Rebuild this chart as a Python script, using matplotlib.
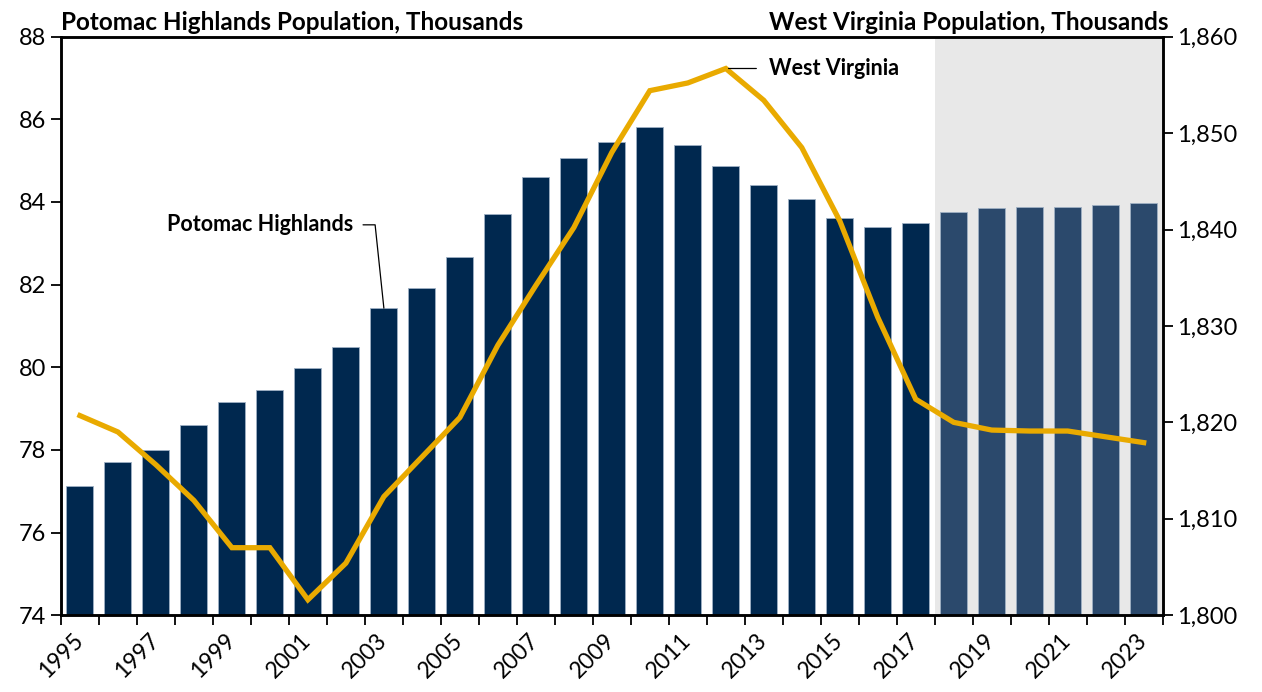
import numpy as np
import matplotlib
matplotlib.use("Agg")
import matplotlib.pyplot as plt
from matplotlib.ticker import FuncFormatter

plt.rcParams['font.family'] = ['Lato', 'DejaVu Sans']

# data
years = list(range(1995, 2024))
potomac = [77.13, 77.71, 78.00, 78.60, 79.17, 79.46, 79.98, 80.50, 81.43, 81.93,
           82.67, 83.70, 84.60, 85.07, 85.46, 85.82, 85.38, 84.86, 84.41, 84.08,
           83.61, 83.39, 83.49, 83.76, 83.85, 83.87, 83.89, 83.93, 83.97]
west_virginia = [1820.7, 1819.0, 1815.6, 1811.9, 1807.0, 1807.0, 1801.6, 1805.4, 1812.3, 1816.4,
                 1820.5, 1828.0, 1834.2, 1840.2, 1848.0, 1854.4, 1855.2, 1856.7, 1853.4, 1848.5,
                 1840.9, 1830.9, 1822.4, 1820.0, 1819.2, 1819.1, 1819.1, 1818.5, 1817.9]
forecast_start = 2018
xtick_years = [y for y in years if y % 2 == 1]

navy = '#00284f'
navy_fc = '#2b496c'
gold = '#e9aa00'

x = np.arange(len(years))
is_fc = np.array(years) >= forecast_start
n_hist = int((~is_fc).sum())

fig = plt.figure(figsize=(12.62, 6.92), dpi=100)
ax = fig.add_axes([0.0483, 0.111, 0.873, 0.836])

ax.axvspan(n_hist - 0.5, len(years) - 0.5, color='#e8e8e8', zorder=0, lw=0)
ax.bar(x, potomac, width=0.71, color=np.where(is_fc, navy_fc, navy),
       edgecolor='#9fb0c4', linewidth=0.6, zorder=2)
ax.set_xlim(-0.5, len(years) - 0.5)
ax.set_ylim(74, 88)
ax.set_yticks(np.arange(74, 89, 2))

# ticks between bars, labels on odd years
ax.set_xticks(np.arange(len(years) + 1) - 0.5)
ax.set_xticklabels([])
ax.set_xticks([years.index(y) for y in xtick_years], minor=True)
ax.set_xticklabels([str(y) for y in xtick_years], minor=True, rotation=45,
                   ha='right', va='center', rotation_mode='anchor', fontsize=16.5)
ax.tick_params(axis='x', which='major', direction='out', length=7, width=1.3)
ax.tick_params(axis='x', which='minor', length=0, pad=16)
ax.tick_params(axis='y', direction='out', length=7, width=1.3, labelsize=17)
for s in ax.spines.values():
    s.set_linewidth(1.8)

ax2 = ax.twinx()
ax2.plot(x, west_virginia, color=gold, lw=3.8, solid_joinstyle='miter', zorder=3)
ax2.set_ylim(1800, 1860)
ax2.set_yticks(np.arange(1800, 1861, 10))
ax2.yaxis.set_major_formatter(FuncFormatter(lambda v, p: f'{v:,.0f}'))
ax2.tick_params(axis='y', direction='out', length=7, width=1.3, labelsize=17)
for s in ax2.spines.values():
    s.set_linewidth(1.8)

ax.text(0.0, 1.005, 'Potomac Highlands Population, Thousands', transform=ax.transAxes,
        ha='left', va='bottom', fontsize=17.5, fontweight='bold')
ax.text(1.005, 1.005, 'West Virginia Population, Thousands', transform=ax.transAxes,
        ha='right', va='bottom', fontsize=17.5, fontweight='bold')

i_ph = years.index(2003)
ax.annotate('Potomac Highlands', xy=(i_ph, potomac[i_ph]), xytext=(-22, 60),
            textcoords='offset points', ha='right', va='center', fontsize=15.5,
            fontweight='bold', zorder=5,
            arrowprops=dict(arrowstyle='-', color='black', lw=0.9, shrinkA=5, shrinkB=0,
                            relpos=(1, 0.5),
                            connectionstyle='angle,angleA=0,angleB=96,rad=0'))
i_wv = int(np.argmax(west_virginia))
ax2.annotate('West Virginia', xy=(i_wv, west_virginia[i_wv]), xytext=(31, 0),
             textcoords='offset points', ha='left', va='center', fontsize=15.5,
             fontweight='bold', zorder=5,
             arrowprops=dict(arrowstyle='-', color='black', lw=0.9, shrinkA=7, shrinkB=2,
                             relpos=(0, 0.5)))

fig.savefig('out.png', dpi=100)
